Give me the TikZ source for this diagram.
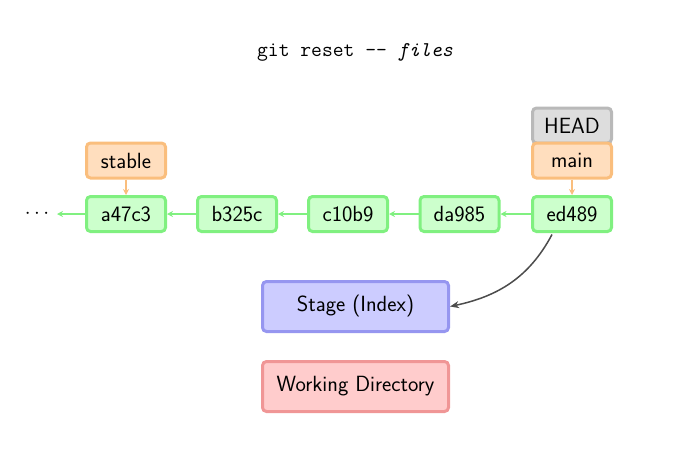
\documentclass[tikz,border=0pt]{standalone}
\usetikzlibrary{arrows.meta}
\definecolor{cgreenF}{RGB}{204,255,204}
\definecolor{cgreenD}{RGB}{128,240,128}
\definecolor{corangeF}{RGB}{255,222,190}
\definecolor{corangeD}{RGB}{250,190,125}
\definecolor{cblueF}{RGB}{204,204,255}
\definecolor{cblueD}{RGB}{150,150,240}
\definecolor{credF}{RGB}{255,204,204}
\definecolor{credD}{RGB}{240,150,150}
\definecolor{cgrayF}{RGB}{221,221,221}
\definecolor{cgrayD}{RGB}{185,185,185}
\tikzset{
  box/.style={rounded corners=4pt, line width=3pt, minimum width=79pt, minimum height=35pt, inner sep=0pt,
    font=\sffamily\fontsize{22}{26}\selectfont},
  commit/.style={box, draw=cgreenD, fill=cgreenF},
  branch/.style={box, draw=corangeD, fill=corangeF},
  headbox/.style={box, draw=cgrayD, fill=cgrayF},
  area/.style={box, minimum width=186pt, minimum height=50pt},
  parent/.style={draw=cgreenD, line width=1.5pt, -{Stealth[length=6pt,width=6pt]}},
  brarrow/.style={draw=corangeD, line width=1.5pt, -{Stealth[length=6pt,width=6pt]}},
  resetarrow/.style={draw=black!70, line width=1.5pt, -{Stealth[length=9pt,width=7pt]}},
}
\begin{document}
\begin{tikzpicture}[x=1pt,y=1pt]
\useasboundingbox (0,0) rectangle (682,-474);
\node[font=\ttfamily\fontsize{21}{24}\selectfont] (title) at (355,-52) {git reset -- \textit{files}};
\node[commit] (a) at (126,-214) {a47c3};
\node[commit] (b) at (237,-214) {b325c};
\node[commit] (c) at (348,-214) {c10b9};
\node[commit] (d) at (459.5,-214) {da985};
\node[commit] (e) at (572,-214) {ed489};
\node[font=\fontsize{20}{24}\selectfont, inner sep=0pt] (dots) at (37,-214) {$\cdots$};
\coordinate (dotsend) at (57,-214);
\node[branch] (stable) at (126,-160.5) {stable};
\node[headbox] (head) at (572,-125.5) {HEAD};
\node[branch] (main) at (572,-160.5) {main};
\node[area, draw=cblueD, fill=cblueF] (stage) at (355.5,-306.5) {Stage (Index)};
\node[area, draw=credD, fill=credF] (wd) at (355.5,-386.5) {Working Directory};
\draw[parent] (e) -- (d);
\draw[parent] (d) -- (c);
\draw[parent] (c) -- (b);
\draw[parent] (b) -- (a);
\draw[parent] (a) -- (dotsend);
\draw[brarrow] (stable) -- (a);
\draw[brarrow] (main) -- (e);
\path (e.south west) ++(21,-1.5) coordinate (estart);
\draw[resetarrow] (estart) to[out=-118,in=12] (stage.east);
\end{tikzpicture}
\end{document}
